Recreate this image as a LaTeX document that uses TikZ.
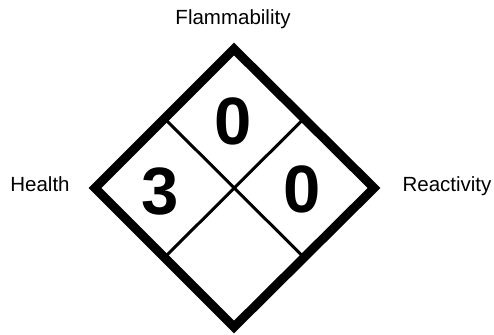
\documentclass[tikz,border=0pt]{standalone}
\usepackage{fontspec}
\setmainfont{Liberation Sans}
\usepackage{tikz}
\usetikzlibrary{calc}

\tikzset{
	label/.style={anchor=base, inner sep=0pt, font=\fontsize{20.5}{24}\selectfont},
	rating/.style={anchor=base, inner sep=0pt, font=\fontsize{67}{70}\selectfont\bfseries}
}

\begin{document}
\begin{tikzpicture}[x=1pt, y=1pt]
			\useasboundingbox (0,0) rectangle (494,334);
			\coordinate (top) at (234,285);
			\coordinate (left) at (95,146);
			\coordinate (right) at (374,146);
			\coordinate (bottom) at (234,7);
		
			\draw[line width=9pt, miter limit=10] (top) -- (right) -- (bottom) -- (left) -- cycle;
			\draw[line width=3pt] ($(top)!0.5!(left)$) -- ($(right)!0.5!(bottom)$);
			\draw[line width=3pt] ($(top)!0.5!(right)$) -- ($(left)!0.5!(bottom)$);
		
			\node[rating] (flam) at (233,189) {0};
			\node[rating] (health) at (160,119) {3};
			\node[rating] (react) at (302,121) {0};
		
			\node[label] (flamlabel) at (233,309) {Flammability};
			\node[label] (healthlabel) at (40,142) {Health};
			\node[label] (reactlabel) at (447,142) {Reactivity};
		\end{tikzpicture}
\end{document}
